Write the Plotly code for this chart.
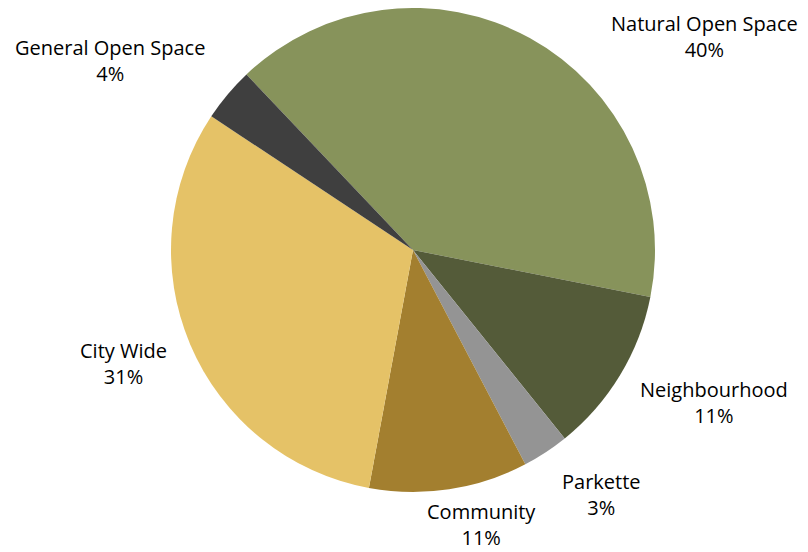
import plotly.graph_objects as go

# Flächenanteile der Parkkategorien (%)
categories = ["Natural Open Space", "Neighbourhood", "Parkette", "Community", "City Wide", "General Open Space"]
shares = [40.2, 11.1, 3.1, 10.6, 31.4, 3.6]
colors = ["#87935b", "#545b39", "#949494", "#a37f2f", "#e5c267", "#3f3f3f"]

# Lage der Beschriftungen (Pixel im Fenster: x-Mitte, y-Mitte des Zweizeilers)
label_pos = [(704, 36), (714, 402), (601, 494),
             (481, 524), (124, 363), (110, 61)]

OFF = 8  # Seitenrand des Browsers (body margin)
W, H = 808 - OFF, 552 - OFF  # Figur füllt das Fenster genau aus

fig = go.Figure(go.Pie(
    labels=categories,
    values=shares,
    sort=False,
    direction="clockwise",
    rotation=-43.5,
    marker=dict(colors=colors, line=dict(width=0)),
    textinfo="none",
    domain=dict(x=[(171 - OFF) / W, (655 - OFF) / W],
                y=[1 - (492 - OFF) / H, 1 - (8 - OFF) / H]),
    showlegend=False,
    hoverinfo="label+percent",
))

total = sum(shares)
font = dict(family="Open Sans", size=20, color="#000000")
for name, val, (px, py) in zip(categories, shares, label_pos):
    fig.add_annotation(x=(px - OFF) / W, y=1 - (py - OFF) / H, xref="paper", yref="paper",
                       text=f"{name}<br>{round(val / total * 100)}%",
                       showarrow=False, font=font, align="center",
                       xanchor="center", yanchor="middle", borderpad=0)

fig.update_layout(
    width=W,
    height=H,
    margin=dict(l=0, r=0, t=0, b=0),
    paper_bgcolor="white",
    plot_bgcolor="white",
)

fig.write_html("out.html")
